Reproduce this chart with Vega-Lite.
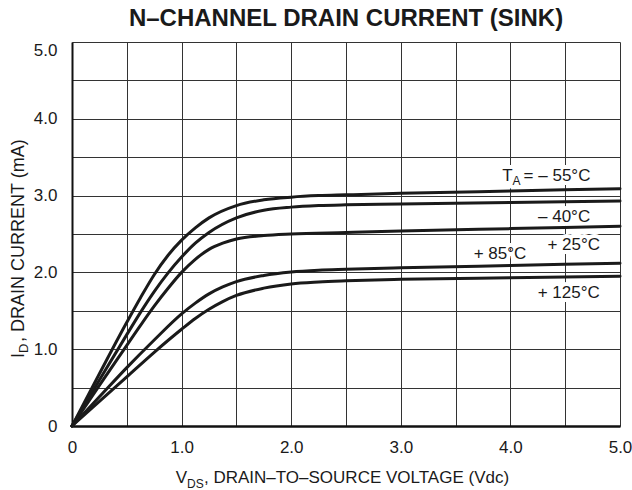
{
  "$schema": "https://vega.github.io/schema/vega-lite/v6.json",
  "width": 548,
  "height": 384,
  "autosize": {"type": "none"},
  "padding": {"left": 72, "top": 42, "right": 12, "bottom": 64},
  "background": "white",
  "config": {"view": {"stroke": null}, "font": "Liberation Sans"},
  "title": {"text": "N–CHANNEL DRAIN CURRENT (SINK)", "font": "Liberation Sans", "fontSize": 24, "fontWeight": "bold", "anchor": "middle", "offset": 10, "color": "#1a1a1a"},
  "encoding": {
    "x": {"field": "v", "type": "quantitative", "scale": {"domain": [0, 5], "nice": false, "zero": false},
      "axis": {"values": [0, 0.5, 1, 1.5, 2, 2.5, 3, 3.5, 4, 4.5, 5], "title": null, "grid": true, "gridColor": "#333333", "gridWidth": 1, "ticks": false, "domainColor": "#111", "domainWidth": 2.5, "labelFont": "Liberation Sans", "labelFontSize": 17, "labelColor": "#1a1a1a", "labelPadding": 13, "labelOverlap": false, "labelBound": false, "labelFlush": false,
        "labelExpr": "datum.value == 0 ? '0' : (datum.value % 1 == 0 ? format(datum.value, '.1f') : '')"}},
    "y": {"field": "i", "type": "quantitative", "scale": {"domain": [0, 5], "nice": false, "zero": false},
      "axis": {"values": [0, 0.5, 1, 1.5, 2, 2.5, 3, 3.5, 4, 4.5, 5], "title": null, "grid": true, "gridColor": "#333333", "gridWidth": 1, "ticks": false, "domainColor": "#111", "domainWidth": 2, "labelFont": "Liberation Sans", "labelFontSize": 17, "labelColor": "#1a1a1a", "labelPadding": 15, "labelOverlap": false, "labelBound": false, "labelFlush": false,
        "labelBaseline": {"condition": {"test": "datum.value == 5", "value": "top"}, "value": "middle"},
        "labelExpr": "datum.value == 0 ? '0' : (datum.value % 1 == 0 ? format(datum.value, '.1f') : '')"}}
  },
  "layer": [
    {
      "data": {"values": [
        {"label": "– 40°C", "v": 4.49, "i": 2.66},
        {"label": "+ 25°C", "v": 4.578, "i": 2.29},
        {"label": "+ 85°C", "v": 3.905, "i": 2.17},
        {"label": "+ 125°C", "v": 4.532, "i": 1.663}
      ]},
      "mark": {"type": "text", "align": "center", "baseline": "alphabetic", "fontSize": 17, "fill": "white", "stroke": "white", "strokeWidth": 8, "strokeJoin": "round"},
      "encoding": {"text": {"field": "label"}}
    },
    {
      "data": {"values": [{"label": "T", "v": 4.02, "i": 3.194}]},
      "mark": {"type": "text", "align": "right", "baseline": "alphabetic", "fontSize": 17, "fill": "white", "stroke": "white", "strokeWidth": 8, "strokeJoin": "round"},
      "encoding": {"text": {"field": "label"}}
    },
    {
      "data": {"values": [{"label": "A", "v": 4.02, "i": 3.194}]},
      "mark": {"type": "text", "align": "left", "baseline": "alphabetic", "fontSize": 12, "dy": 4.5, "fill": "white", "stroke": "white", "strokeWidth": 8, "strokeJoin": "round"},
      "encoding": {"text": {"field": "label"}}
    },
    {
      "data": {"values": [{"label": "= – 55°C", "v": 4.02, "i": 3.194}]},
      "mark": {"type": "text", "align": "left", "baseline": "alphabetic", "fontSize": 17, "dx": 11, "fill": "white", "stroke": "white", "strokeWidth": 8, "strokeJoin": "round"},
      "encoding": {"text": {"field": "label"}}
    },
    {
      "data": {"values": [
        {"t": "-55", "v": 0, "i": 0}, {"t": "-55", "v": 0.25, "i": 0.68}, {"t": "-55", "v": 0.5, "i": 1.35}, {"t": "-55", "v": 0.625, "i": 1.67}, {"t": "-55", "v": 0.75, "i": 1.97}, {"t": "-55", "v": 0.875, "i": 2.22}, {"t": "-55", "v": 1.0, "i": 2.42}, {"t": "-55", "v": 1.125, "i": 2.58}, {"t": "-55", "v": 1.25, "i": 2.71}, {"t": "-55", "v": 1.5, "i": 2.87}, {"t": "-55", "v": 1.75, "i": 2.945}, {"t": "-55", "v": 2.0, "i": 2.98}, {"t": "-55", "v": 2.25, "i": 3.0}, {"t": "-55", "v": 2.5, "i": 3.01}, {"t": "-55", "v": 3.0, "i": 3.03}, {"t": "-55", "v": 4.0, "i": 3.06}, {"t": "-55", "v": 5.0, "i": 3.09},
        {"t": "-40", "v": 0, "i": 0}, {"t": "-40", "v": 0.25, "i": 0.6}, {"t": "-40", "v": 0.5, "i": 1.19}, {"t": "-40", "v": 0.625, "i": 1.48}, {"t": "-40", "v": 0.75, "i": 1.75}, {"t": "-40", "v": 0.875, "i": 1.99}, {"t": "-40", "v": 1.0, "i": 2.2}, {"t": "-40", "v": 1.125, "i": 2.38}, {"t": "-40", "v": 1.25, "i": 2.52}, {"t": "-40", "v": 1.5, "i": 2.71}, {"t": "-40", "v": 1.75, "i": 2.81}, {"t": "-40", "v": 2.0, "i": 2.85}, {"t": "-40", "v": 2.25, "i": 2.87}, {"t": "-40", "v": 2.5, "i": 2.88}, {"t": "-40", "v": 3.0, "i": 2.89}, {"t": "-40", "v": 4.0, "i": 2.91}, {"t": "-40", "v": 5.0, "i": 2.93},
        {"t": "25", "v": 0, "i": 0}, {"t": "25", "v": 0.25, "i": 0.53}, {"t": "25", "v": 0.5, "i": 1.05}, {"t": "25", "v": 0.625, "i": 1.31}, {"t": "25", "v": 0.75, "i": 1.56}, {"t": "25", "v": 0.875, "i": 1.79}, {"t": "25", "v": 1.0, "i": 2.0}, {"t": "25", "v": 1.125, "i": 2.17}, {"t": "25", "v": 1.25, "i": 2.3}, {"t": "25", "v": 1.375, "i": 2.38}, {"t": "25", "v": 1.5, "i": 2.435}, {"t": "25", "v": 1.75, "i": 2.48}, {"t": "25", "v": 2.0, "i": 2.5}, {"t": "25", "v": 2.5, "i": 2.52}, {"t": "25", "v": 3.0, "i": 2.54}, {"t": "25", "v": 4.0, "i": 2.57}, {"t": "25", "v": 5.0, "i": 2.6},
        {"t": "85", "v": 0, "i": 0}, {"t": "85", "v": 0.25, "i": 0.38}, {"t": "85", "v": 0.5, "i": 0.76}, {"t": "85", "v": 0.75, "i": 1.12}, {"t": "85", "v": 1.0, "i": 1.46}, {"t": "85", "v": 1.125, "i": 1.6}, {"t": "85", "v": 1.25, "i": 1.72}, {"t": "85", "v": 1.375, "i": 1.81}, {"t": "85", "v": 1.5, "i": 1.88}, {"t": "85", "v": 1.75, "i": 1.96}, {"t": "85", "v": 2.0, "i": 2.005}, {"t": "85", "v": 2.25, "i": 2.028}, {"t": "85", "v": 2.5, "i": 2.04}, {"t": "85", "v": 3.0, "i": 2.06}, {"t": "85", "v": 4.0, "i": 2.09}, {"t": "85", "v": 5.0, "i": 2.12},
        {"t": "125", "v": 0, "i": 0}, {"t": "125", "v": 0.25, "i": 0.32}, {"t": "125", "v": 0.5, "i": 0.64}, {"t": "125", "v": 0.75, "i": 0.96}, {"t": "125", "v": 1.0, "i": 1.26}, {"t": "125", "v": 1.125, "i": 1.4}, {"t": "125", "v": 1.25, "i": 1.52}, {"t": "125", "v": 1.375, "i": 1.62}, {"t": "125", "v": 1.5, "i": 1.7}, {"t": "125", "v": 1.75, "i": 1.795}, {"t": "125", "v": 2.0, "i": 1.85}, {"t": "125", "v": 2.25, "i": 1.875}, {"t": "125", "v": 2.5, "i": 1.89}, {"t": "125", "v": 3.0, "i": 1.91}, {"t": "125", "v": 4.0, "i": 1.93}, {"t": "125", "v": 5.0, "i": 1.95}
      ]},
      "mark": {"type": "line", "interpolate": "monotone", "strokeWidth": 3, "color": "#1a1a1a", "strokeCap": "round"},
      "encoding": {"detail": {"field": "t", "type": "nominal"}}
    },
    {
      "data": {"values": [
        {"label": "– 40°C", "v": 4.49, "i": 2.66},
        {"label": "+ 25°C", "v": 4.578, "i": 2.29},
        {"label": "+ 85°C", "v": 3.905, "i": 2.17},
        {"label": "+ 125°C", "v": 4.532, "i": 1.663}
      ]},
      "mark": {"type": "text", "align": "center", "baseline": "alphabetic", "fontSize": 17, "color": "#1a1a1a"},
      "encoding": {"text": {"field": "label"}}
    },
    {
      "data": {"values": [{"label": "T", "v": 4.02, "i": 3.194}]},
      "mark": {"type": "text", "align": "right", "baseline": "alphabetic", "fontSize": 17, "color": "#1a1a1a"},
      "encoding": {"text": {"field": "label"}}
    },
    {
      "data": {"values": [{"label": "A", "v": 4.02, "i": 3.194}]},
      "mark": {"type": "text", "align": "left", "baseline": "alphabetic", "fontSize": 12, "dy": 4.5, "color": "#1a1a1a"},
      "encoding": {"text": {"field": "label"}}
    },
    {
      "data": {"values": [{"label": "= – 55°C", "v": 4.02, "i": 3.194}]},
      "mark": {"type": "text", "align": "left", "baseline": "alphabetic", "fontSize": 17, "dx": 11, "color": "#1a1a1a"},
      "encoding": {"text": {"field": "label"}}
    },
    {
      "data": {"values": [{"label": "V", "v": 1.049, "i": -0.745}]},
      "mark": {"type": "text", "align": "right", "baseline": "alphabetic", "fontSize": 17, "color": "#1a1a1a"},
      "encoding": {"text": {"field": "label"}}
    },
    {
      "data": {"values": [{"label": "DS", "v": 1.049, "i": -0.745}]},
      "mark": {"type": "text", "align": "left", "baseline": "alphabetic", "fontSize": 12, "dy": 4.5, "color": "#1a1a1a"},
      "encoding": {"text": {"field": "label"}}
    },
    {
      "data": {"values": [{"label": ", DRAIN–TO–SOURCE VOLTAGE (Vdc)", "v": 1.049, "i": -0.745}]},
      "mark": {"type": "text", "align": "left", "baseline": "alphabetic", "fontSize": 17, "dx": 17, "color": "#1a1a1a"},
      "encoding": {"text": {"field": "label"}}
    },
    {
      "data": {"values": [{"label": "I", "v": -0.44, "i": 0.95}]},
      "mark": {"type": "text", "align": "right", "baseline": "alphabetic", "fontSize": 18, "angle": 270, "color": "#1a1a1a"},
      "encoding": {"text": {"field": "label"}}
    },
    {
      "data": {"values": [{"label": "D", "v": -0.44, "i": 0.95}]},
      "mark": {"type": "text", "align": "left", "baseline": "alphabetic", "fontSize": 13, "angle": 270, "dy": 4.5, "color": "#1a1a1a"},
      "encoding": {"text": {"field": "label"}}
    },
    {
      "data": {"values": [{"label": ", DRAIN CURRENT (mA)", "v": -0.44, "i": 0.95}]},
      "mark": {"type": "text", "align": "left", "baseline": "alphabetic", "fontSize": 18, "angle": 270, "dx": 11, "color": "#1a1a1a"},
      "encoding": {"text": {"field": "label"}}
    }
  ]
}
